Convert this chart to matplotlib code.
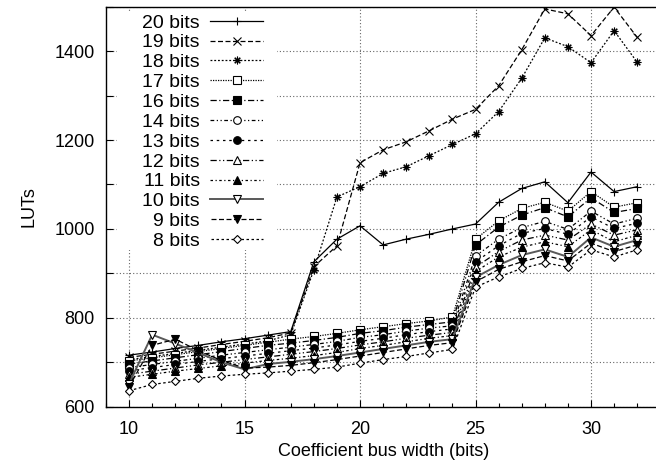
import matplotlib.pyplot as plt
from matplotlib.patches import Rectangle

plt.rcParams['font.family'] = ['Liberation Sans', 'DejaVu Sans']

# coefficient bus width (bits)
width = list(range(10, 33))

# LUT usage for each data width
luts_20 = [716, 723, 731, 738, 746, 753, 761, 769, 926, 977, 1007, 964, 977, 988, 1000,
           1011, 1060, 1091, 1106, 1059, 1128, 1084, 1095]
luts_19 = [711, 718, 725, 732, 740, 747, 755, 766, 915, 962, 1149, 1178, 1196, 1221, 1247,
           1269, 1322, 1403, 1495, 1484, 1435, 1499, 1431]
luts_18 = [706, 713, 720, 727, 734, 741, 748, 762, 908, 1072, 1095, 1125, 1140, 1165, 1190,
           1214, 1264, 1339, 1430, 1410, 1374, 1446, 1375]
luts_17 = [703, 710, 717, 724, 731, 738, 745, 752, 758, 765, 773, 780, 787, 793, 802,
           977, 1018, 1046, 1060, 1040, 1084, 1049, 1059]
luts_16 = [696, 703, 710, 717, 724, 731, 738, 743, 749, 756, 765, 771, 779, 785, 791,
           964, 1004, 1031, 1048, 1027, 1070, 1037, 1046]
luts_14 = [688, 695, 702, 709, 716, 722, 728, 734, 740, 747, 756, 762, 770, 777, 782,
           939, 977, 1003, 1017, 999, 1040, 1011, 1024]
luts_13 = [681, 688, 695, 702, 708, 714, 720, 726, 732, 739, 747, 754, 762, 769, 775,
           926, 962, 990, 1001, 988, 1027, 1001, 1013]
luts_12 = [673, 680, 687, 694, 700, 706, 712, 718, 724, 731, 739, 746, 754, 761, 767,
           914, 949, 975, 986, 975, 1011, 986, 998]
luts_11 = [666, 673, 680, 686, 692, 698, 704, 709, 715, 722, 731, 738, 746, 754, 760,
           904, 937, 959, 971, 960, 998, 971, 986]
luts_10 = [652, 762, 742, 721, 700, 684, 696, 701, 707, 714, 722, 730, 738, 746, 752,
           891, 919, 941, 954, 937, 981, 960, 975]
luts_9 = [645, 738, 752, 726, 704, 687, 689, 693, 699, 706, 714, 722, 730, 738, 744,
          881, 909, 926, 940, 928, 968, 949, 964]
luts_8 = [636, 650, 657, 664, 669, 673, 676, 680, 684, 689, 698, 706, 713, 721, 729,
          869, 892, 911, 924, 914, 953, 937, 953]

labels = ['20 bits', '19 bits', '18 bits', '17 bits', '16 bits', '14 bits',
          '13 bits', '12 bits', '11 bits', '10 bits', '9 bits', '8 bits']
series = [luts_20, luts_19, luts_18, luts_17, luts_16, luts_14,
          luts_13, luts_12, luts_11, luts_10, luts_9, luts_8]

# gnuplot-like monochrome styles: (dash, marker, filled)
styles = [
    ('-', '+', True),
    ((0, (4, 2)), 'x', True),
    ((0, (1.5, 1.5)), (8, 2, 0), True),
    ((0, (1, 1)), 's', False),
    ((0, (5, 2, 1, 2)), 's', True),
    ((0, (3, 2, 1, 2, 1, 2)), 'o', False),
    ((0, (2, 3)), 'o', True),
    ((0, (5, 2, 1, 2, 1, 2)), '^', False),
    ((0, (2, 2, 1, 2)), '^', True),
    ('-', 'v', False),
    ((0, (4, 2)), 'v', True),
    ((0, (2, 2)), 'D', False),
]

fig = plt.figure(figsize=(6.56, 4.66), dpi=100)
ax = fig.add_axes([106 / 656, 59.3 / 466, 554.3 / 656, 400 / 466])

handles = []
for lab, vals, (ls, mk, filled) in zip(labels, series, styles):
    color = '0.35' if lab == '10 bits' else 'black'
    lw = 1.4 if lab == '10 bits' else 0.9
    ms = 4.5 if mk == 'D' else 5.5
    h, = ax.plot(width, vals, linestyle=ls, color=color, lw=lw, marker=mk,
                 ms=ms, mec='black', mew=0.8,
                 mfc='black' if filled else 'white', label=lab, zorder=3)
    handles.append(h)

ax.set_xlim(9, 33)
ax.set_ylim(600, 1500)
ax.set_xticks([10, 15, 20, 25, 30])
ax.set_xticks(range(9, 34), minor=True)
ax.set_yticks(range(600, 1501, 100))
ax.set_yticklabels([str(v) if v % 200 == 0 else '' for v in range(600, 1501, 100)])
ax.tick_params(axis='both', which='both', direction='in', labelsize=13)
ax.tick_params(axis='both', which='major', length=5, width=0.8)
ax.tick_params(axis='x', which='minor', length=3, width=0.8)
ax.tick_params(axis='y', pad=8)
ax.tick_params(axis='x', pad=10)

ax.set_axisbelow(True)
ax.grid(True, which='major', linestyle=(0, (1, 2)), color='0.4', lw=0.8)
for s in ax.spines.values():
    s.set_linewidth(1.0)

ax.set_xlabel('Coefficient bus width (bits)', fontsize=13, labelpad=4)
ax.set_ylabel('LUTs', fontsize=13, labelpad=12)

# blank area behind the key
ax.add_patch(Rectangle((11 / 554.3, (406.7 - 250) / 400), 160 / 554.3, 238 / 400,
                       transform=ax.transAxes, facecolor='white', edgecolor='none',
                       zorder=1))

ax.legend(handles=handles, loc='upper right', bbox_to_anchor=(263 / 656, 1 - 14 / 466),
          bbox_transform=fig.transFigure, markerfirst=False, frameon=False,
          fontsize=14, handlelength=2.7, handletextpad=0.55, labelspacing=0.115,
          borderpad=0, borderaxespad=0)

fig.savefig('out.png', dpi=100)
